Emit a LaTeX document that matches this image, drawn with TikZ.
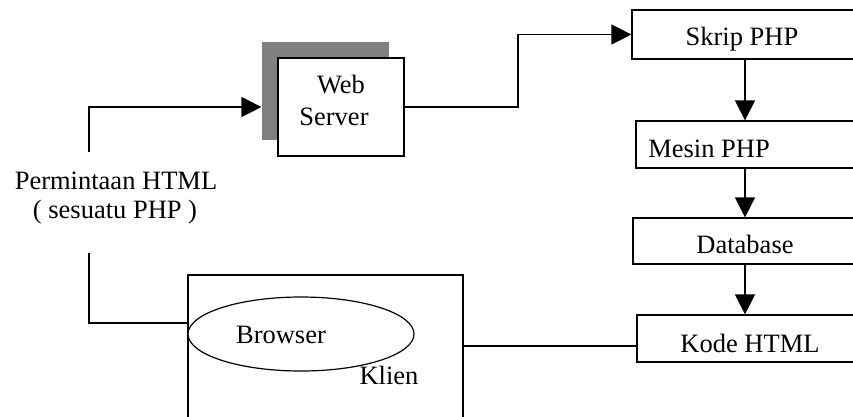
\documentclass[tikz,border=0pt]{standalone}
\usepackage{fontspec}
\setmainfont{Liberation Serif}
\usetikzlibrary{arrows.meta,shapes.geometric}

\begin{document}
\begin{tikzpicture}[x=1pt,y=-1pt,
  line width=1.2pt,
  every node/.style={font=\fontsize{26.5}{30}\selectfont, inner sep=0pt},
  box/.style={draw, rectangle, line width=1.2pt},
  shadowbox/.style={rectangle, fill=shadowgray},
  txt/.style={anchor=base},
  arr/.style={-{Triangle[length=20pt,width=20pt]}}
]
\definecolor{shadowgray}{HTML}{808080}
\useasboundingbox (0,0) rectangle (853,416);
\clip (0,0) rectangle (853,416);

% helper coordinates for connector routing
\coordinate (reqtop) at (89,152);
\coordinate (reqbot) at (89,253);
\coordinate (bend) at (518,0);
\coordinate (col) at (745,0);
\coordinate (link) at (0,346);
\coordinate (cin) at (0,323);

% web server with its shadow
\node[shadowbox, minimum width=127pt, minimum height=98pt] (shadow) at (325.5,91) {};
\node[box, fill=white, minimum width=126pt, minimum height=98pt] (web) at (341,107) {};
\node[txt] (webt1) at (341,93) {Web};
\node[txt] (webt2) at (334,125) {Server};

% processing chain on the right
\node[box, minimum width=248pt, minimum height=49pt] (skrip) at (756,34.5) {};
\node[box, minimum width=244pt, minimum height=47pt] (mesin) at (758,144.5) {};
\node[box, minimum width=247pt, minimum height=46pt] (db) at (756.5,241) {};
\node[box, minimum width=243pt, minimum height=47pt] (kode) at (758.5,338.5) {};
\node[txt] (skript) at (742,45) {Skrip PHP};
\node[txt] (mesint) at (709,157) {Mesin PHP};
\node[txt] (dbt) at (745,253) {Database};
\node[txt] (kodet) at (750,352) {Kode HTML};

% client with browser
\node[box, minimum width=275pt, minimum height=170pt] (client) at (325.5,360) {};
\node[draw, ellipse, fill=white, minimum width=226pt, minimum height=74pt] (browser) at (301,334) {};
\node[txt] (browsert) at (281,343) {Browser};
\node[txt] (klien) at (389,384) {Klien};

% request label
\node[txt] (req1) at (116,189) {Permintaan HTML};
\node[txt] (req2) at (115,218) {( sesuatu PHP )};

% connectors
\draw[arr] (reqtop) |- (shadow.west |- web.west);
\draw[arr] (web.east) -- (web.east -| bend) |- (skrip.west);
\draw[arr] (skrip.south -| col) -- (mesin.north -| col);
\draw[arr] (mesin.south -| col) -- (db.north -| col);
\draw[arr] (db.south -| col) -- (kode.north -| col);
\draw (kode.west |- link) -- (client.east |- link);
\draw (reqbot) |- (client.west |- cin);
\end{tikzpicture}
\end{document}
